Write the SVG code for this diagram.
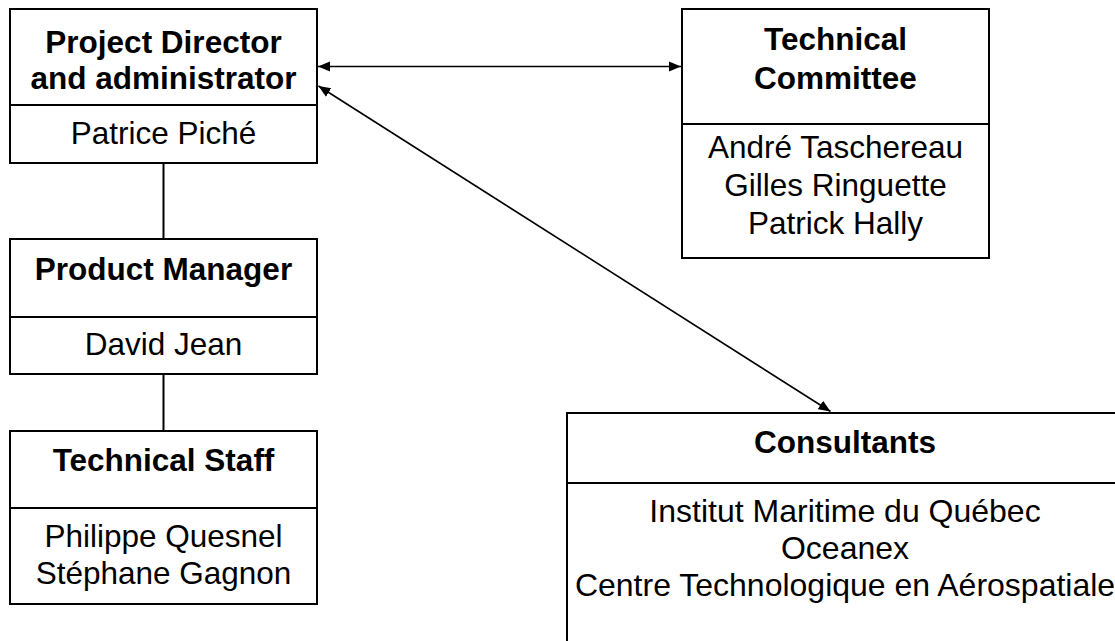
<svg xmlns="http://www.w3.org/2000/svg" width="1115" height="641" viewBox="0 0 1115 641">
<style>
  .box { fill: #ffffff; stroke: #000000; stroke-width: 2; }
  .div { stroke: #000000; stroke-width: 2; }
  .t { font-family: "Liberation Sans", Arial, sans-serif; font-size: 31.5px; fill: #000000; text-anchor: middle; }
  .b { font-weight: bold; }
  .lg { font-size: 32px; }
  .conn { stroke: #000000; stroke-width: 2; fill: none; }
  .arr { stroke: #000000; stroke-width: 1.6; fill: none; }
</style>
<defs>
  <marker id="ah" markerUnits="userSpaceOnUse" markerWidth="12" markerHeight="12" viewBox="0 0 12 12" refX="12" refY="6" orient="auto-start-reverse">
    <path d="M0,1 L12,6 L0,11 Z" fill="#000000"/>
  </marker>
</defs>
<rect width="1115" height="641" fill="#ffffff"/>
<g id="connectors">
  <line class="conn" x1="163.5" y1="163" x2="163.5" y2="239"/>
  <line class="conn" x1="163.5" y1="374" x2="163.5" y2="431"/>
  <line class="arr" x1="318" y1="66.5" x2="681" y2="66.5" marker-start="url(#ah)" marker-end="url(#ah)"/>
  <line class="arr" x1="318.5" y1="86" x2="830.5" y2="411.5" marker-start="url(#ah)" marker-end="url(#ah)"/>
</g>
<g id="project-director">
  <rect class="box" x="10" y="9" width="307" height="154"/>
  <line class="div" x1="10" y1="105" x2="317" y2="105"/>
  <text class="t b" x="163.5" y="53">Project Director</text>
  <text class="t b" x="163.5" y="89">and administrator</text>
  <text class="t" x="163.5" y="144">Patrice Piché</text>
</g>
<g id="technical-committee">
  <rect class="box" x="682" y="9" width="307" height="249"/>
  <line class="div" x1="682" y1="124" x2="989" y2="124"/>
  <text class="t b" x="835.5" y="50">Technical</text>
  <text class="t b" x="835.5" y="89">Committee</text>
  <text class="t" x="835.5" y="158">André Taschereau</text>
  <text class="t" x="835.5" y="196">Gilles Ringuette</text>
  <text class="t" x="835.5" y="234">Patrick Hally</text>
</g>
<g id="product-manager">
  <rect class="box" x="10" y="239" width="307" height="135"/>
  <line class="div" x1="10" y1="317" x2="317" y2="317"/>
  <text class="t b" x="163.5" y="280">Product Manager</text>
  <text class="t" x="163.5" y="355">David Jean</text>
</g>
<g id="technical-staff">
  <rect class="box" x="10" y="431" width="307" height="173"/>
  <line class="div" x1="10" y1="508" x2="317" y2="508"/>
  <text class="t b" x="163.5" y="471">Technical Staff</text>
  <text class="t" x="163.5" y="547">Philippe Quesnel</text>
  <text class="t" x="163.5" y="584">Stéphane Gagnon</text>
</g>
<g id="consultants">
  <rect class="box" x="567" y="413" width="556" height="240"/>
  <line class="div" x1="567" y1="483" x2="1123" y2="483"/>
  <text class="t b" x="845" y="453">Consultants</text>
  <text class="t lg" x="845" y="522">Institut Maritime du Québec</text>
  <text class="t lg" x="845" y="559">Oceanex</text>
  <text class="t lg" x="845" y="596">Centre Technologique en Aérospatiale</text>
</g>
</svg>
